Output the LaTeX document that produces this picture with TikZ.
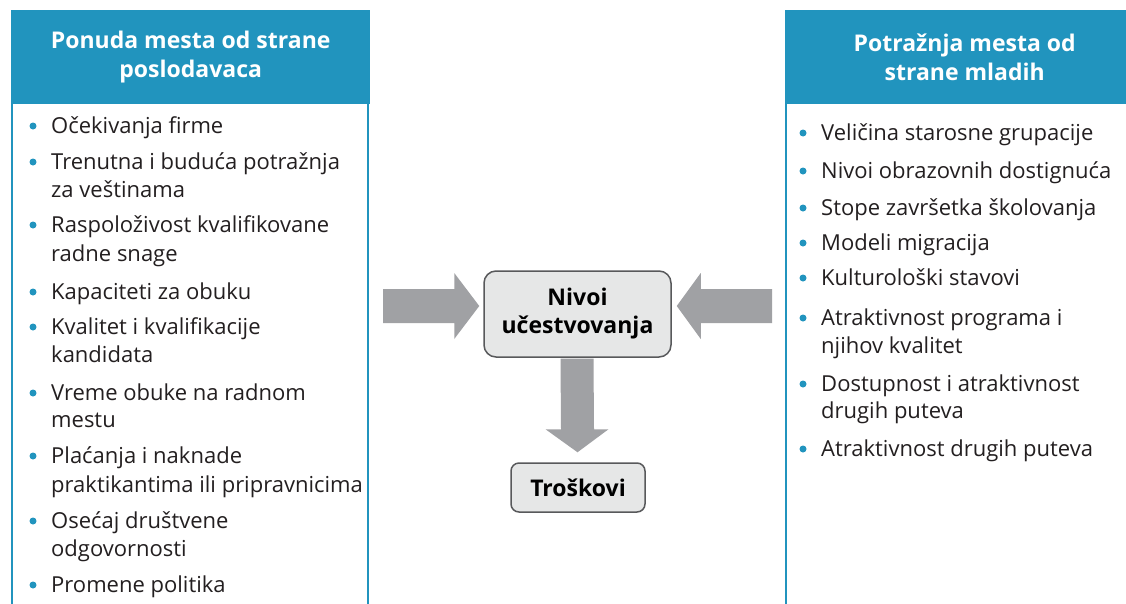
\documentclass[tikz,border=0pt]{standalone}
\usepackage{fontspec}
\setmainfont{Open Sans}
\usetikzlibrary{calc}
\definecolor{hdr}{HTML}{2194BE}
\definecolor{arr}{HTML}{A0A1A4}
\definecolor{boxfill}{HTML}{E6E7E7}
\definecolor{boxline}{HTML}{58595B}
\definecolor{txt}{HTML}{231F20}
\tikzset{
  item/.style={anchor=base west, inner sep=0pt, text=txt, font=\fontsize{22}{28}\selectfont},
  bul/.style={circle, fill=hdr, inner sep=0pt, minimum size=7pt},
  hdrbox/.style={fill=hdr, anchor=north west, inner sep=0pt, minimum height=94pt, minimum width=359pt,
    text=white, align=center, font=\fontsize{23}{29}\selectfont\bfseries},
  side/.style={draw=hdr, line width=2pt},
  centerbox/.style={draw=boxline, fill=boxfill, line width=1.5pt, align=center, text=black,
    font=\fontsize{23}{28}\selectfont\bfseries, inner sep=0pt},
  blockarrow/.style={fill=arr, draw=none}
}
\begin{document}
\begin{tikzpicture}[x=1pt,y=-1pt]
\clip (0,0) rectangle (1126,603);
\fill[white] (0,0) rectangle (1126,603);

% left panel
\draw[side] (12,100) -- (12,610);
\draw[side] (368,100) -- (368,610);
\node[hdrbox] (lh) at (11,10) {Ponuda mesta od strane\\poslodavaca};

% right panel
\draw[side] (786,100) -- (786,610);
\node[hdrbox] (rh) at (785,10) {Potražnja mesta od\\strane mladih};

% left items
\foreach \y/\t/\b in {
  133/Očekivanja firme/1,
  169/Trenutna i buduća potražnja/1,
  197/za veštinama/0,
  232/Raspoloživost kvalifikovane/1,
  261/radne snage/0,
  299/Kapaciteti za obuku/1,
  334/Kvalitet i kvalifikacije/1,
  362/kandidata/0,
  400/Vreme obuke na radnom/1,
  427/mestu/0,
  463/Plaćanja i naknade/1,
  492/praktikantima ili pripravnicima/0,
  528/Osećaj društvene/1,
  556/odgovornosti/0,
  592/Promene politika/1}{
  \node[item] (l\y) at (51,\y) {\t};
  \ifnum\b=1 \node[bul] at (33,\y-7) {};\fi
}

% right items
\foreach \y/\t/\b in {
  140/Veličina starosne grupacije/1,
  178/Nivoi obrazovnih dostignuća/1,
  215/Stope završetka školovanja/1,
  250/Modeli migracija/1,
  285/Kulturološki stavovi/1,
  325/Atraktivnost programa i/1,
  353/njihov kvalitet/0,
  391/Dostupnost i atraktivnost/1,
  418/drugih puteva/0,
  456/Atraktivnost drugih puteva/1}{
  \node[item] (r\y) at (821,\y) {\t};
  \ifnum\b=1 \node[bul] at (803,\y-7) {};\fi
}

% center boxes
\node[centerbox, rounded corners=12pt, minimum width=187pt, minimum height=86pt] (niv) at (577.5,314) {Nivoi\\učestvovanja};
\node[centerbox, rounded corners=8pt, minimum width=134pt, minimum height=49pt] (tro) at (578,487.5) {Troškovi};

% block arrows
\coordinate (ltail) at (383,306);
\coordinate (rtail) at (772,306);
\coordinate (ltip) at ($(niv.west)+(-4,-8)$);
\coordinate (rtip) at ($(niv.east)+(5,-8)$);
\coordinate (dtip) at ($(tro.north)+(-0.5,-10)$);

\fill[blockarrow] ($(ltail)+(0,-17)$) -- ($(ltip)+(-25,-17)$) -- ($(ltip)+(-25,-33)$) -- (ltip)
  -- ($(ltip)+(-25,33)$) -- ($(ltip)+(-25,17)$) -- ($(ltail)+(0,17)$) -- cycle;
\fill[blockarrow] ($(rtail)+(0,-17)$) -- ($(rtip)+(24,-17)$) -- ($(rtip)+(24,-33)$) -- (rtip)
  -- ($(rtip)+(24,33)$) -- ($(rtip)+(24,17)$) -- ($(rtail)+(0,17)$) -- cycle;
\fill[blockarrow] ($(niv.south)+(-17,0.8)$) -- ($(dtip)+(-16.5,-23)$) -- ($(dtip)+(-32,-23)$) -- (dtip)
  -- ($(dtip)+(31,-23)$) -- ($(dtip)+(16.5,-23)$) -- ($(niv.south)+(16,0.8)$) -- cycle;
\end{tikzpicture}
\end{document}
